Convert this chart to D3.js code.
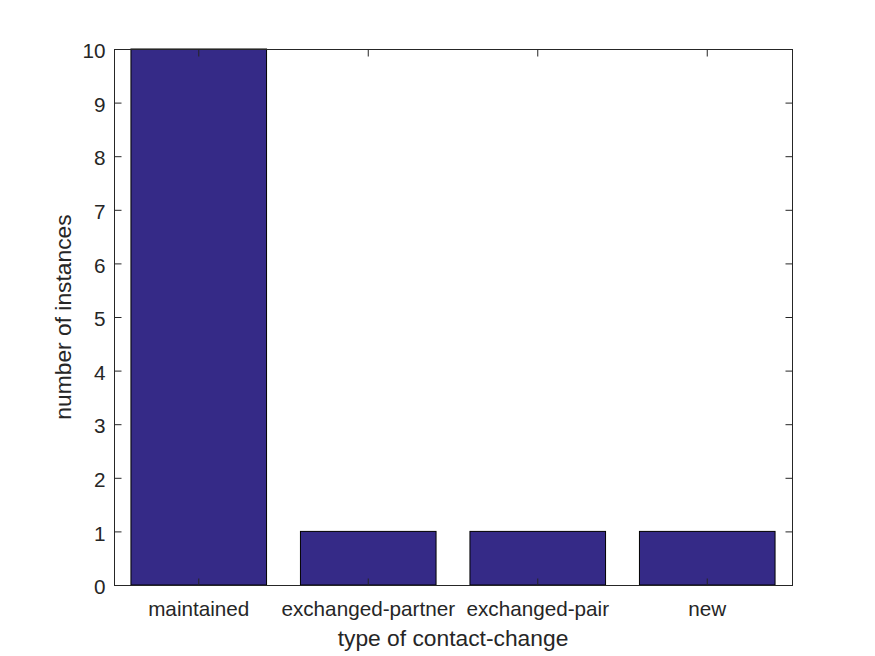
<!DOCTYPE html>
<html>
<head>
<meta charset="utf-8">
<script src="https://cdn.jsdelivr.net/npm/d3@7"></script>
<style>
  body { margin: 0; background: #fff; }
  text { font-family: "Liberation Sans", Arial, Helvetica, sans-serif; fill: #262626; }
</style>
</head>
<body>
<svg id="chart" width="875" height="656"></svg>
<script>
const categories = ["maintained", "exchanged-partner", "exchanged-pair", "new"];
const counts = [10, 1, 1, 1];
const yTicks = [0, 1, 2, 3, 4, 5, 6, 7, 8, 9, 10];
const xLabel = "type of contact-change";
const yLabel = "number of instances";

const svg = d3.select("#chart");
const m = { left: 114, top: 49, right: 792, bottom: 585 };
const axisColor = "#262626";
const tickLen = 7;
const tickFont = "20.7px";
const labelFont = "22.8px";

svg.append("rect").attr("width", 875).attr("height", 656).attr("fill", "#fff");

const x = d3.scaleBand().domain(categories).range([m.left, m.right]).paddingInner(0.2).paddingOuter(0.1);
const y = d3.scaleLinear().domain([0, 10]).range([m.bottom, m.top]);

// bars
svg.append("g").selectAll("rect").data(categories).join("rect")
  .attr("x", d => x(d))
  .attr("y", (d, i) => y(counts[i]))
  .attr("width", x.bandwidth())
  .attr("height", (d, i) => y(0) - y(counts[i]))
  .attr("fill", "#352A87")
  .attr("stroke", "#000")
  .attr("stroke-width", 1);

// box
svg.append("rect")
  .attr("x", m.left + 0.5).attr("y", m.top + 0.5)
  .attr("width", m.right - m.left).attr("height", m.bottom - m.top)
  .attr("fill", "none").attr("stroke", axisColor).attr("stroke-width", 1);

// y axis ticks (left, inward) and labels
const yAxis = d3.axisLeft(y).tickValues(yTicks).tickSizeInner(-tickLen).tickSizeOuter(0).tickPadding(9);
const gy = svg.append("g").attr("transform", `translate(${m.left + 0.5},0)`).call(yAxis);
gy.select(".domain").remove();
gy.selectAll("line").attr("stroke", axisColor);
gy.selectAll("text").style("font-size", tickFont).attr("fill", axisColor).attr("dy", "0.42em")
  .attr("x", -9);

// right ticks
const yAxisR = d3.axisRight(y).tickValues(yTicks).tickSizeInner(-tickLen).tickSizeOuter(0).tickFormat("");
const gyr = svg.append("g").attr("transform", `translate(${m.right + 0.5},0)`).call(yAxisR);
gyr.select(".domain").remove();
gyr.selectAll("line").attr("stroke", axisColor);

// x axis
const xAxis = d3.axisBottom(x).tickSizeInner(-tickLen).tickSizeOuter(0);
const gx = svg.append("g").attr("transform", `translate(0,${m.bottom + 0.5})`).call(xAxis);
gx.select(".domain").remove();
gx.selectAll("line").attr("stroke", axisColor);
gx.selectAll("text").style("font-size", tickFont).attr("fill", axisColor)
  .attr("y", 30.5).attr("dy", null);

const xAxisT = d3.axisTop(x).tickSizeInner(-tickLen).tickSizeOuter(0).tickFormat("");
const gxt = svg.append("g").attr("transform", `translate(0,${m.top + 0.5})`).call(xAxisT);
gxt.select(".domain").remove();
gxt.selectAll("line").attr("stroke", axisColor);

// axis titles
svg.append("text")
  .attr("x", (m.left + m.right) / 2).attr("y", 646)
  .attr("text-anchor", "middle").style("font-size", labelFont)
  .text(xLabel);
svg.append("text")
  .attr("transform", `translate(71,${(m.top + m.bottom) / 2}) rotate(-90)`)
  .attr("text-anchor", "middle").style("font-size", labelFont)
  .text(yLabel);
</script>
</body>
</html>
